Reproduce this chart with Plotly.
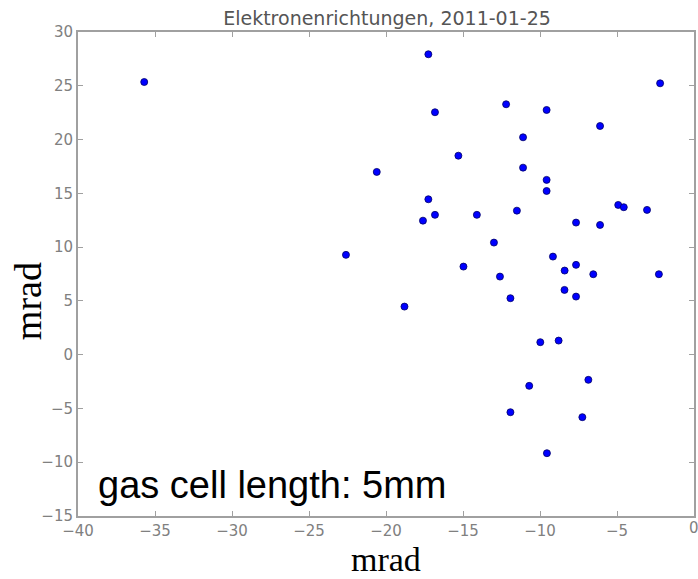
import plotly.graph_objects as go

x_vals = [-35.7, -17.25, -2.2, -12.2, -9.57, -16.82, -6.1, -11.1, -15.3, -11.1,
          -20.6, -9.57, -9.57, -17.25, -4.92, -4.56, -3.05, -16.82, -14.1, -11.5,
          -17.6, -7.66, -6.1, -12.99, -22.6, -9.16, -14.97, -7.66, -8.4, -12.6,
          -6.54, -2.28, -8.41, -7.66, -11.92, -18.8, -9.98, -8.79, -6.86, -10.7,
          -11.92, -7.25, -9.55]
y_vals = [25.35, 27.93, 25.23, 23.28, 22.75, 22.54, 21.26, 20.21, 18.5, 17.39,
          16.99, 16.25, 15.22, 14.45, 13.92, 13.71, 13.46, 13.0, 13.0, 13.39,
          12.46, 12.28, 12.06, 10.42, 9.28, 9.12, 8.19, 8.35, 7.82, 7.26,
          7.48, 7.48, 6.02, 5.40, 5.25, 4.47, 1.16, 1.31, -2.34, -2.9,
          -5.35, -5.81, -9.16]

title_text = "Elektronenrichtungen, 2011-01-25"
x_label = "mrad"
y_label = "mrad"
note_text = "gas cell length: 5mm"
x_ticks = [-40, -35, -30, -25, -20, -15, -10, -5, 0]
y_ticks = [-15, -10, -5, 0, 5, 10, 15, 20, 25, 30]

fig = go.Figure()
fig.add_trace(go.Scatter(
    x=x_vals, y=y_vals, mode="markers",
    marker=dict(color="#0000ff", size=7, line=dict(color="#000066", width=0.8)),
    showlegend=False,
))

tick_font = dict(family="DejaVu Sans", size=15, color="#808080")
axis_common = dict(
    showgrid=False, zeroline=False, showline=True, linecolor="#a0a0a0", linewidth=2,
    mirror="ticks", ticks="inside", ticklen=5, tickcolor="#a0a0a0", tickwidth=1,
    tickfont=tick_font,
)

def fmt(v):
    return "\u2212" + str(-v) if v < 0 else str(v)

# last x tick label (at the right edge) is drawn as an annotation so it stays visible
fig.update_xaxes(range=[-40, 0], tickvals=x_ticks,
                 ticktext=[fmt(v) if v != x_ticks[-1] else "" for v in x_ticks], **axis_common)
fig.update_yaxes(range=[-15, 30], tickvals=y_ticks, ticktext=[fmt(v) for v in y_ticks], **axis_common)

fig.add_annotation(x=1.0, y=0, xref="paper", yref="paper", text=fmt(x_ticks[-1]), showarrow=False,
                   xanchor="left", yanchor="top", xshift=-6, yshift=-2, font=tick_font,
                   borderpad=0)

fig.add_annotation(x=-38.8, y=-12.1, xref="x", yref="y", text=note_text, showarrow=False,
                   xanchor="left", yanchor="middle",
                   font=dict(family="Liberation Sans", size=38, color="black"))

# axis labels as annotations (paper coords)
fig.add_annotation(x=0.5, y=-(579 - 516) / 484, xref="paper", yref="paper", text=x_label,
                   showarrow=False, xanchor="center", yanchor="bottom", borderpad=0,
                   font=dict(family="Liberation Serif", size=34, color="black"))
fig.add_annotation(x=-(78 - 28) / 618, y=(516 - 301) / 484, xref="paper", yref="paper", text=y_label,
                   showarrow=False, xanchor="center", yanchor="middle", textangle=-90,
                   font=dict(family="Liberation Serif", size=38, color="black"))

fig.update_layout(
    width=698, height=579,
    margin=dict(l=78, r=2, t=32, b=63),
    paper_bgcolor="white", plot_bgcolor="white",
    title=dict(text=title_text, x=(78 + 309) / 698, xanchor="center", y=1 - 18 / 579, yanchor="middle",
               font=dict(family="DejaVu Sans", size=19, color="#555555")),
)

fig.write_html("out.html")
